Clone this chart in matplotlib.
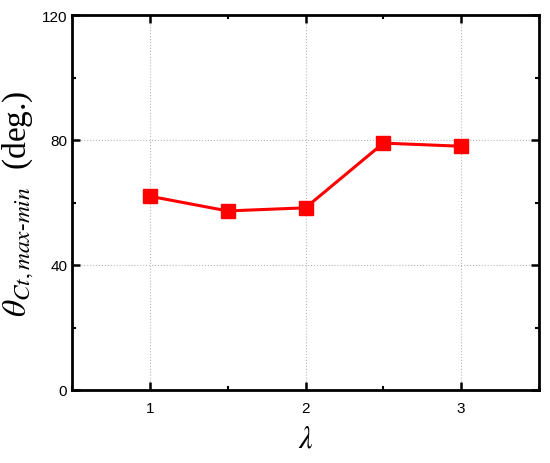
import matplotlib
matplotlib.use("Agg")
import matplotlib.pyplot as plt
from matplotlib.ticker import MultipleLocator

# data
lam = [1.0, 1.5, 2.0, 2.5, 3.0]
theta = [62, 57.3, 58.3, 79, 78]

plt.rcParams["font.family"] = "Liberation Sans"
plt.rcParams["mathtext.fontset"] = "stix"

fig = plt.figure(figsize=(5.5, 4.64), dpi=100)
ax = fig.add_axes([72 / 550, 1 - 391 / 464, (539 - 72) / 550, (391 - 16) / 464])

ax.plot(lam, theta, color="#ff0000", lw=2.2, marker="s", ms=10,
        markerfacecolor="#ff0000", markeredgecolor="#ff0000", zorder=3)

ax.set_xlim(0.5, 3.5)
ax.set_ylim(0, 120)
ax.xaxis.set_major_locator(MultipleLocator(1))
ax.xaxis.set_minor_locator(MultipleLocator(0.5))
ax.yaxis.set_major_locator(MultipleLocator(40))
ax.yaxis.set_minor_locator(MultipleLocator(20))
ax.tick_params(which="both", direction="in", top=True, right=True, labelsize=11)
ax.tick_params(which="major", length=6, width=1.8)
ax.tick_params(which="minor", length=3, width=1.5)
ax.tick_params(axis="x", pad=8)

ax.grid(True, which="major", color="#b8b8b8", linestyle=":", linewidth=0.8)
for s in ax.spines.values():
    s.set_linewidth(2)

ax.set_xlabel(r"$\lambda$", fontsize=22, labelpad=6)
ax.set_ylabel(r"$\theta_{Ct,max\text{-}min}$  (deg.)", fontsize=24,
              family="Liberation Serif", labelpad=4)

fig.savefig("out.png", dpi=100)
